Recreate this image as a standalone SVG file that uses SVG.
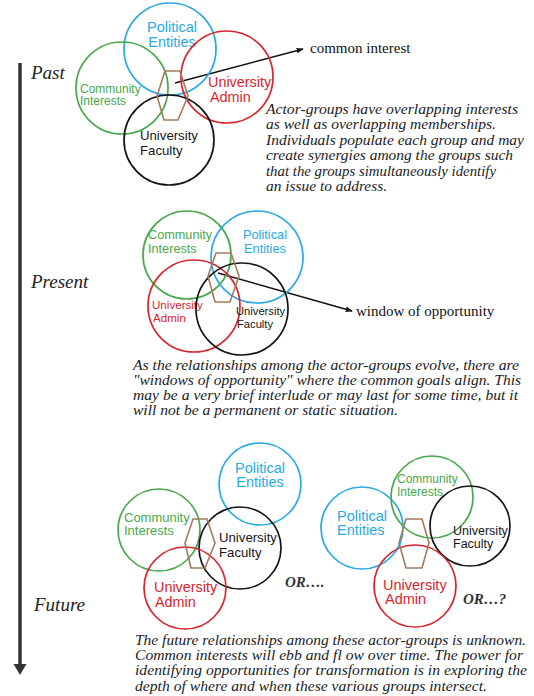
<svg xmlns="http://www.w3.org/2000/svg" width="534" height="696" viewBox="0 0 534 696">
<defs>
<style>
.c{fill:none;stroke-width:1.7}
.bl{stroke:#29aae2}.gr{stroke:#4aa84c}.rd{stroke:#d7252d}.bk{stroke:#151515}
.hx{fill:none;stroke:#a37b5c;stroke-width:1.6}
.lab{font-family:"Liberation Sans",Arial,sans-serif}
.tb{fill:#29aae2}.tg{fill:#4aa84c}.tr{fill:#d7252d}.tk{fill:#151515}
.para{font-family:"Liberation Serif","Times New Roman",serif;font-style:italic;font-size:15px;fill:#222}
.per{font-family:"Liberation Serif","Times New Roman",serif;font-style:italic;font-size:19px;fill:#222}
.note{font-family:"Liberation Serif","Times New Roman",serif;font-size:15px;fill:#111}
.or{font-family:"Liberation Serif","Times New Roman",serif;font-style:italic;font-weight:bold;font-size:15px;fill:#333}
.ln{stroke:#111;stroke-width:1.5;fill:none}
</style>
<marker id="ah" viewBox="0 0 10 10" refX="9" refY="5" markerWidth="7" markerHeight="7" orient="auto" markerUnits="userSpaceOnUse">
<path d="M0,1 L10,5 L0,9 Z" fill="#111"/>
</marker>
</defs>
<rect width="534" height="696" fill="#fff"/>

<g id="connectors">
<line x1="20" y1="63" x2="20" y2="665" stroke="#333" stroke-width="3.5"/>
<path d="M13.5,664 L26.5,664 L20,675 Z" fill="#333"/>
<line class="ln" x1="175" y1="83" x2="303" y2="49" marker-end="url(#ah)"/>
<line class="ln" x1="218" y1="273" x2="352" y2="311" marker-end="url(#ah)"/>
</g>

<text class="per" x="31" y="79">Past</text>
<text class="per" x="31" y="288">Present</text>
<text class="per" x="34" y="611">Future</text>

<text class="note" x="310" y="53">common interest</text>
<text class="note" x="356" y="316">window of opportunity</text>

<!-- PAST -->
<g id="past-political">
<circle class="c bl" cx="170" cy="49" r="46"/>
<text class="lab tb" font-size="14.5" text-anchor="middle"><tspan x="172" y="32">Political</tspan><tspan x="172" y="47">Entities</tspan></text>
</g>
<g id="past-community">
<circle class="c gr" cx="122" cy="88" r="46"/>
<text class="lab tg" font-size="12"><tspan x="80" y="92.5">Community</tspan><tspan x="80" y="105">Interests</tspan></text>
</g>
<g id="past-admin">
<circle class="c rd" cx="227" cy="77" r="46"/>
<text class="lab tr" font-size="14.4"><tspan x="208" y="87">University</tspan><tspan x="210" y="102">Admin</tspan></text>
</g>
<g id="past-faculty">
<circle class="c bk" cx="169" cy="140" r="45"/>
<text class="lab tk" font-size="13.2"><tspan x="140" y="140">University</tspan><tspan x="140" y="155">Faculty</tspan></text>
</g>
<g id="past-common">
<polygon class="hx" points="165,71 180,71 188,96 178,120 164,120 157,96"/>
</g>
<text class="para"><tspan x="266" y="114" textLength="252" lengthAdjust="spacingAndGlyphs">Actor-groups have overlapping interests</tspan></text>
<text class="para"><tspan x="266" y="129.4" textLength="230" lengthAdjust="spacingAndGlyphs">as well as overlapping memberships.</tspan></text>
<text class="para"><tspan x="266" y="144.8" textLength="258" lengthAdjust="spacingAndGlyphs">Individuals populate each group and may</tspan></text>
<text class="para"><tspan x="266" y="160.2" textLength="247" lengthAdjust="spacingAndGlyphs">create synergies among the groups such</tspan></text>
<text class="para"><tspan x="266" y="175.6" textLength="230" lengthAdjust="spacingAndGlyphs">that the groups simultaneously identify</tspan></text>
<text class="para"><tspan x="266" y="191" textLength="121" lengthAdjust="spacingAndGlyphs">an issue to address.</tspan></text>

<!-- PRESENT -->
<g id="present-community">
<circle class="c gr" cx="187" cy="255" r="44"/>
<text class="lab tg" font-size="12.7"><tspan x="148" y="239">Community</tspan><tspan x="148" y="252.5">Interests</tspan></text>
</g>
<g id="present-political">
<circle class="c bl" cx="257" cy="257" r="46"/>
<text class="lab tb" font-size="12.8" text-anchor="middle"><tspan x="265" y="239">Political</tspan><tspan x="265" y="252.5">Entities</tspan></text>
</g>
<g id="present-admin">
<circle class="c rd" cx="194" cy="306" r="46"/>
<text class="lab tr" font-size="11.6"><tspan x="152" y="309">University</tspan><tspan x="153" y="322">Admin</tspan></text>
</g>
<g id="present-faculty">
<circle class="c bk" cx="242" cy="309" r="46"/>
<text class="lab tk" font-size="11.2"><tspan x="236" y="315">University</tspan><tspan x="237" y="327.5">Faculty</tspan></text>
</g>
<g id="present-window">
<polygon class="hx" points="216,253 231,253 239,276 230,302 215,302 208,276"/>
</g>
<text class="para"><tspan x="133" y="370" textLength="386" lengthAdjust="spacingAndGlyphs">As the relationships among the actor-groups evolve, there are</tspan></text>
<text class="para"><tspan x="133" y="385" textLength="388" lengthAdjust="spacingAndGlyphs">"windows of opportunity" where the common goals align. This</tspan></text>
<text class="para"><tspan x="133" y="400" textLength="385" lengthAdjust="spacingAndGlyphs">may be a very brief interlude or may last for some time, but it</tspan></text>
<text class="para"><tspan x="133" y="414.5" textLength="265" lengthAdjust="spacingAndGlyphs">will not be a permanent or static situation.</tspan></text>

<!-- FUTURE (left) -->
<g id="future1-political">
<circle class="c bl" cx="260" cy="484" r="41"/>
<text class="lab tb" font-size="14.5" text-anchor="middle"><tspan x="260" y="473">Political</tspan><tspan x="260" y="487">Entities</tspan></text>
</g>
<g id="future1-community">
<circle class="c gr" cx="159" cy="530" r="41"/>
<text class="lab tg" font-size="13"><tspan x="124" y="521.5">Community</tspan><tspan x="124" y="534.5">Interests</tspan></text>
</g>
<g id="future1-faculty">
<circle class="c bk" cx="240" cy="548" r="41"/>
<text class="lab tk" font-size="13.2"><tspan x="219" y="542">University</tspan><tspan x="219" y="557">Faculty</tspan></text>
</g>
<g id="future1-admin">
<circle class="c rd" cx="185" cy="588" r="41"/>
<text class="lab tr" font-size="14.4"><tspan x="154" y="592">University</tspan><tspan x="155" y="607">Admin</tspan></text>
</g>
<g id="future1-overlap">
<polygon class="hx" points="193,519 207,519 215,543 205,568 191,568 185,543"/>
</g>
<text class="or" x="285" y="587">OR….</text>

<!-- FUTURE (right) -->
<g id="future2-political">
<circle class="c bl" cx="362" cy="528" r="41"/>
<text class="lab tb" font-size="14.5"><tspan x="337" y="521">Political</tspan><tspan x="337" y="535">Entities</tspan></text>
</g>
<g id="future2-community">
<circle class="c gr" cx="432" cy="497" r="41"/>
<text class="lab tg" font-size="12"><tspan x="397" y="482.5">Community</tspan><tspan x="397" y="495.5">Interests</tspan></text>
</g>
<g id="future2-faculty">
<circle class="c bk" cx="470" cy="526" r="40"/>
<text class="lab tk" font-size="12.5"><tspan x="453" y="535">University</tspan><tspan x="453" y="548">Faculty</tspan></text>
</g>
<g id="future2-admin">
<circle class="c rd" cx="415" cy="586" r="41"/>
<text class="lab tr" font-size="14.5"><tspan x="383" y="590">University</tspan><tspan x="385" y="604">Admin</tspan></text>
</g>
<g id="future2-overlap">
<polygon class="hx" points="406,519 422,519 429,543 422,568 406,568 399,543"/>
</g>
<text class="or" x="463" y="604">OR…?</text>

<text class="para"><tspan x="135" y="645" textLength="391" lengthAdjust="spacingAndGlyphs">The future relationships among these actor-groups is unknown.</tspan></text>
<text class="para"><tspan x="135" y="660.2" textLength="388" lengthAdjust="spacingAndGlyphs">Common interests will ebb and fl ow over time. The power for</tspan></text>
<text class="para"><tspan x="135" y="675.4" textLength="392" lengthAdjust="spacingAndGlyphs">identifying opportunities for transformation is in exploring the</tspan></text>
<text class="para"><tspan x="135" y="690.5" textLength="352" lengthAdjust="spacingAndGlyphs">depth of where and when these various groups intersect.</tspan></text>
</svg>
